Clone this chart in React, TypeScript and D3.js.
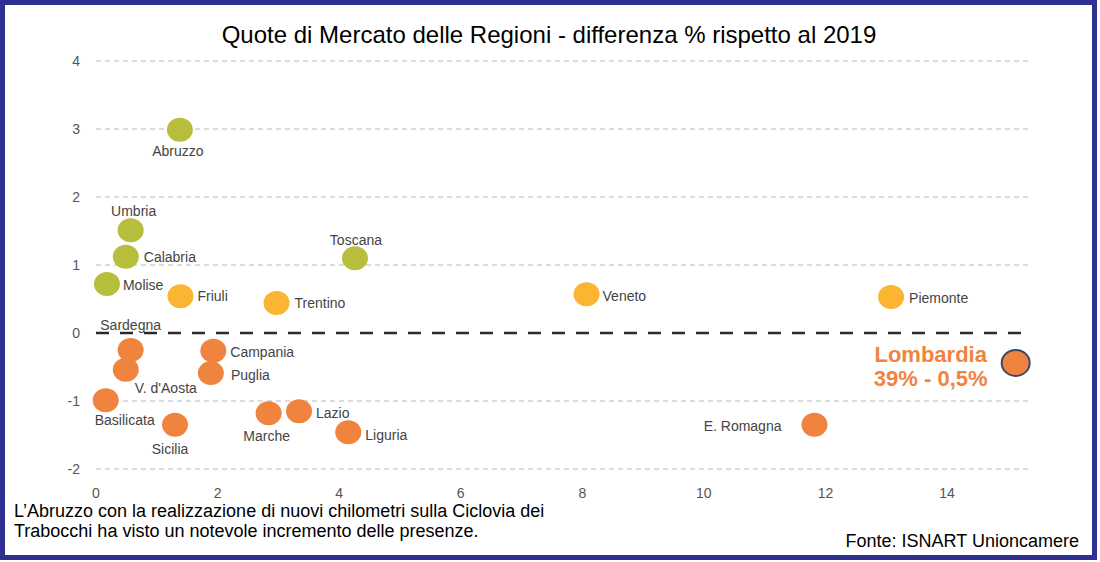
import React, { useEffect, useRef } from "react";
import * as d3 from "d3";

const regions = ["Abruzzo", "Umbria", "Calabria", "Molise", "Friuli", "Trentino", "Toscana", "Veneto", "Piemonte", "Sardegna", "V. d'Aosta", "Campania", "Puglia", "Basilicata", "Sicilia", "Marche", "Lazio", "Liguria", "E. Romagna", "Lombardia"];
const quota = [1.38, 0.57, 0.49, 0.18, 1.39, 2.97, 4.26, 8.07, 13.08, 0.57, 0.49, 1.93, 1.89, 0.16, 1.30, 2.84, 3.34, 4.15, 11.82, 15.13];
const diff = [2.99, 1.51, 1.12, 0.72, 0.54, 0.44, 1.10, 0.57, 0.53, -0.25, -0.54, -0.26, -0.59, -0.99, -1.35, -1.18, -1.15, -1.46, -1.35, -0.44];
const group = ["g", "g", "g", "g", "y", "y", "g", "y", "y", "o", "o", "o", "o", "o", "o", "o", "o", "o", "o", "o"];
const xTicks = [0, 2, 4, 6, 8, 10, 12, 14];
const yTicks = [4, 3, 2, 1, 0, -1, -2];

const title = "Quote di Mercato delle Regioni - differenza % rispetto al 2019";
const note = ["L\u2019Abruzzo con la realizzazione di nuovi chilometri sulla Ciclovia dei", "Trabocchi ha visto un notevole incremento delle presenze."];
const source = "Fonte: ISNART Unioncamere";
const highlightLines = ["Lombardia", "39% - 0,5%"];

const colors: Record<string, string> = { g: "#b7be3b", y: "#fbb532", o: "#f0843f" };

// label placement: [dx, dy, anchor]
const labelPos: Record<string, [number, number, string]> = {
  "Abruzzo": [-2, 21, "middle"],
  "Umbria": [3, -19, "middle"],
  "Calabria": [18, 0, "start"],
  "Molise": [16, 1, "start"],
  "Friuli": [17, 0, "start"],
  "Trentino": [18, 0, "start"],
  "Toscana": [1, -18, "middle"],
  "Veneto": [16, 2, "start"],
  "Piemonte": [18, 1, "start"],
  "Sardegna": [0, -25, "middle"],
  "V. d'Aosta": [40, 18, "middle"],
  "Campania": [17, 1, "start"],
  "Puglia": [20, 2, "start"],
  "Basilicata": [19, 20, "middle"],
  "Sicilia": [-5, 24, "middle"],
  "Marche": [-2, 23, "middle"],
  "Lazio": [17, 2, "start"],
  "Liguria": [17, 3, "start"],
  "E. Romagna": [-33, 1, "end"],
};

export default function App() {
  const ref = useRef<SVGSVGElement>(null);
  useEffect(() => {
    document.body.style.margin = "0";
    const svg = d3.select(ref.current);
    svg.selectAll("*").remove();
    const W = 1100, H = 562;
    const x = d3.scaleLinear().domain([0, 14]).range([96, 947]);
    const y = d3.scaleLinear().domain([-2, 4]).range([469, 61]);
    const gridX0 = 96, gridX1 = 1031;
    const ff = "Liberation Sans, Arial, Helvetica, sans-serif";

    svg.append("rect").attr("x", 0).attr("y", 0).attr("width", W).attr("height", H).attr("fill", "#fff");
    svg.append("rect").attr("x", 2.5).attr("y", 2.5).attr("width", 1092).attr("height", 555)
      .attr("fill", "none").attr("stroke", "#2e3192").attr("stroke-width", 5);

    svg.append("text").attr("x", 549).attr("y", 43).attr("text-anchor", "middle")
      .attr("font-family", ff).attr("font-size", 24).attr("fill", "#000")
      .text(title);

    // gridlines
    svg.append("g").selectAll("line").data(yTicks.filter(t => t !== 0)).join("line")
      .attr("x1", gridX0).attr("x2", gridX1).attr("y1", d => y(d)).attr("y2", d => y(d))
      .attr("stroke", "#d0d0d0").attr("stroke-width", 1.5).attr("stroke-dasharray", "5,4");
    svg.append("line").attr("x1", gridX0).attr("x2", gridX1).attr("y1", y(0)).attr("y2", y(0))
      .attr("stroke", "#2a2a2a").attr("stroke-width", 2.5).attr("stroke-dasharray", "13,11");

    // y tick labels
    svg.append("g").selectAll("text").data(yTicks).join("text")
      .attr("x", 80).attr("y", d => y(d)).attr("dy", "0.35em").attr("text-anchor", "end")
      .attr("font-family", ff).attr("font-size", 14).attr("fill", "#555").text(d => String(d));

    // x tick labels
    svg.append("g").selectAll("text").data(xTicks).join("text")
      .attr("x", d => x(d)).attr("y", 498).attr("text-anchor", "middle")
      .attr("font-family", ff).attr("font-size", 14).attr("fill", "#555").text(d => String(d));

    const pts = regions.map((name, i) => ({ name, qx: quota[i], qy: diff[i], g: group[i] }));

    svg.append("g").selectAll("ellipse").data(pts).join("ellipse")
      .attr("cx", d => x(d.qx)).attr("cy", d => y(d.qy))
      .attr("rx", d => d.name === "Lombardia" ? 14 : 13).attr("ry", d => d.name === "Lombardia" ? 13 : 12)
      .attr("fill", d => colors[d.g])
      .attr("stroke", d => d.name === "Lombardia" ? "#3b4a6b" : "none")
      .attr("stroke-width", 2);

    svg.append("g").selectAll("text").data(pts.filter(p => labelPos[p.name])).join("text")
      .attr("x", d => x(d.qx) + labelPos[d.name][0])
      .attr("y", d => y(d.qy) + labelPos[d.name][1])
      .attr("dy", "0.35em")
      .attr("text-anchor", d => labelPos[d.name][2])
      .attr("font-family", ff).attr("font-size", 14).attr("fill", "#444").text(d => d.name);

    const lomb = pts.find(p => p.name === "Lombardia")!;
    svg.append("g").selectAll("text").data(highlightLines).join("text")
      .attr("x", x(lomb.qx) - 85).attr("y", (d, i) => y(lomb.qy) - 1 + i * 24)
      .attr("text-anchor", "middle").attr("font-family", ff).attr("font-weight", "bold")
      .attr("font-size", 22).attr("fill", "#f0843f").text(d => d);

    svg.append("g").selectAll("text").data(note).join("text")
      .attr("x", 14).attr("y", (d, i) => 517 + i * 20)
      .attr("font-family", ff).attr("font-size", 18).attr("fill", "#000").text(d => d);

    svg.append("text").attr("x", 1079).attr("y", 547).attr("text-anchor", "end")
      .attr("font-family", ff).attr("font-size", 18).attr("fill", "#000").text(source);
  }, []);
  return <svg ref={ref} width={1100} height={562} style={{ display: "block" }} />;
}
